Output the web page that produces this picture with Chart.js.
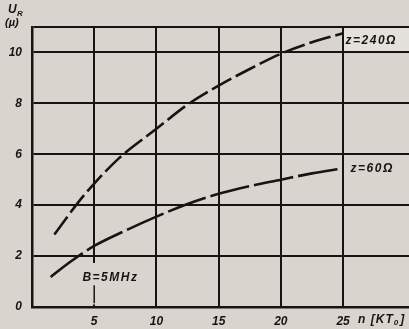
<!DOCTYPE html>
<html><head><meta charset="utf-8">
<script src="https://cdn.jsdelivr.net/npm/chart.js@4.4.1/dist/chart.umd.min.js"></script>
<style>html,body{margin:0;padding:0;background:#d9d5ce;overflow:hidden}canvas{display:block}</style>
</head><body>
<canvas id="c" width="409" height="329"></canvas>
<script>
// ---- data ----
const xTicks = [5, 10, 15, 20, 25];
const yTicks = [0, 2, 4, 6, 8, 10];
const upperX = [1.8, 3.7, 5, 7, 10, 12.5, 15, 17.5, 20, 22.5, 25];
const upperY = [2.85, 4.1, 4.85, 5.85, 7.0, 7.95, 8.7, 9.35, 9.95, 10.4, 10.75];
const lowerX = [1.5, 3, 5, 7.5, 10, 12.5, 15, 17.5, 20, 22.5, 25];
const lowerY = [1.18, 1.75, 2.4, 3.0, 3.55, 4.05, 4.45, 4.75, 5.0, 5.25, 5.45];
const upperLabel = 'z=240Ω';
const lowerLabel = 'z=60Ω';
const bwLabel = 'B=5MHz';
const bwMarkX = [5, 5];
const bwMarkY = [0.15, 0.85];
const yTitleMain = 'U';
const yTitleSub = 'R';
const yTitleUnit = '(µ)';
const xTitle = 'n [KT';
const xTitleSub = '0';
const xTitleEnd = ']';

const ink = '#161514';
const paper = '#d9d5ce';
const fontFam = '"Liberation Sans", Arial, sans-serif';
const toPts = (xs, ys) => xs.map((x, i) => ({x, y: ys[i]}));

const bgPlugin = {
  id: 'bg',
  beforeDraw(chart) {
    const ctx = chart.ctx;
    ctx.save();
    ctx.fillStyle = paper;
    ctx.fillRect(0, 0, chart.width, chart.height);
    const xs = chart.scales.x, ys = chart.scales.y;
    ctx.fillStyle = '#e4e1dc';
    const x0 = xs.getPixelForValue(25), y0 = ys.getPixelForValue(11), y1 = ys.getPixelForValue(10);
    ctx.fillRect(x0, y0, chart.width - x0, y1 - y0);
    ctx.restore();
  },
  beforeDatasetsDraw(chart) {
    // gap in the x=5 grid line around the bandwidth label
    const ctx = chart.ctx;
    const xs = chart.scales.x, ys = chart.scales.y;
    ctx.save();
    ctx.fillStyle = paper;
    const px = xs.getPixelForValue(5);
    const yTop = ys.getPixelForValue(1.73), yBot = ys.getPixelForValue(0.1);
    ctx.fillRect(px - 3, yTop, 6, yBot - yTop);
    ctx.restore();
  }
};

const textPlugin = {
  id: 'texts',
  afterDraw(chart) {
    const ctx = chart.ctx;
    const xs = chart.scales.x, ys = chart.scales.y;
    ctx.save();
    ctx.fillStyle = ink;
    ctx.textBaseline = 'middle';
    ctx.textAlign = 'left';
    ctx.font = 'italic bold 12px ' + fontFam;
    ctx.letterSpacing = '1.5px';
    ctx.fillText(upperLabel, xs.getPixelForValue(25.2), ys.getPixelForValue(10.47));
    ctx.fillText(lowerLabel, xs.getPixelForValue(25.6), ys.getPixelForValue(5.45));
    ctx.textAlign = 'center';
    ctx.fillText(bwLabel, xs.getPixelForValue(6.3), ys.getPixelForValue(1.14));
    // x title
    ctx.textAlign = 'left';
    ctx.letterSpacing = '1px';
    const tx = xs.getPixelForValue(25) + 15, ty = 320;
    ctx.fillText(xTitle, tx, ty);
    let w = ctx.measureText(xTitle).width;
    ctx.font = 'italic bold 8px ' + fontFam;
    ctx.fillText(xTitleSub, tx + w, ty + 3);
    let w2 = ctx.measureText(xTitleSub).width;
    ctx.font = 'italic bold 12px ' + fontFam;
    ctx.fillText(xTitleEnd, tx + w + w2 + 1, ty);
    // y title
    ctx.letterSpacing = '0px';
    ctx.font = 'italic bold 12px ' + fontFam;
    ctx.fillText(yTitleMain, 8, 10);
    ctx.font = 'italic bold 8px ' + fontFam;
    ctx.fillText(yTitleSub, 17, 14);
    ctx.font = 'italic bold 11px ' + fontFam;
    ctx.fillText(yTitleUnit, 5, 23);
    ctx.restore();
  }
};

new Chart(document.getElementById('c'), {
  type: 'scatter',
  data: {
    datasets: [
      {data: toPts(upperX, upperY), showLine: true, borderColor: ink, borderWidth: 2.6,
       borderDash: [22, 5], pointRadius: 0, tension: 0.4, cubicInterpolationMode: 'monotone', fill: false},
      {data: toPts(lowerX, lowerY), showLine: true, borderColor: ink, borderWidth: 2.6,
       borderDash: [40, 5], pointRadius: 0, tension: 0.4, cubicInterpolationMode: 'monotone', fill: false},
      {data: toPts(bwMarkX, bwMarkY), showLine: true, borderColor: ink, borderWidth: 1.5,
       pointRadius: 0, fill: false}
    ]
  },
  options: {
    responsive: false,
    animation: false,
    layout: {padding: {top: 27, right: 0, left: 0, bottom: 0}},
    plugins: {legend: {display: false}, tooltip: {enabled: false}},
    scales: {
      x: {
        type: 'linear', min: 0, max: 30.3,
        afterBuildTicks: s => { s.ticks = xTicks.map(v => ({value: v})); },
        afterFit: s => { s.height = 22; },
        grid: {color: ink, lineWidth: 2, drawTicks: false},
        border: {color: ink, width: 2.5},
        ticks: {color: ink, font: {family: fontFam, size: 12, style: 'italic', weight: 'bold'}, padding: 7,
                maxRotation: 0, callback: v => String(v)}
      },
      y: {
        min: 0, max: 11,
        afterBuildTicks: s => { s.ticks = yTicks.concat([11]).map(v => ({value: v})); },
        afterFit: s => { s.width = 32; },
        grid: {color: ink, lineWidth: 2, drawTicks: false},
        border: {color: ink, width: 2.5},
        ticks: {color: ink, font: {family: fontFam, size: 12, style: 'italic', weight: 'bold'}, padding: 10,
                callback: v => (v === 11 ? '' : String(v))}
      }
    }
  },
  plugins: [bgPlugin, textPlugin]
});
</script>
</body></html>
